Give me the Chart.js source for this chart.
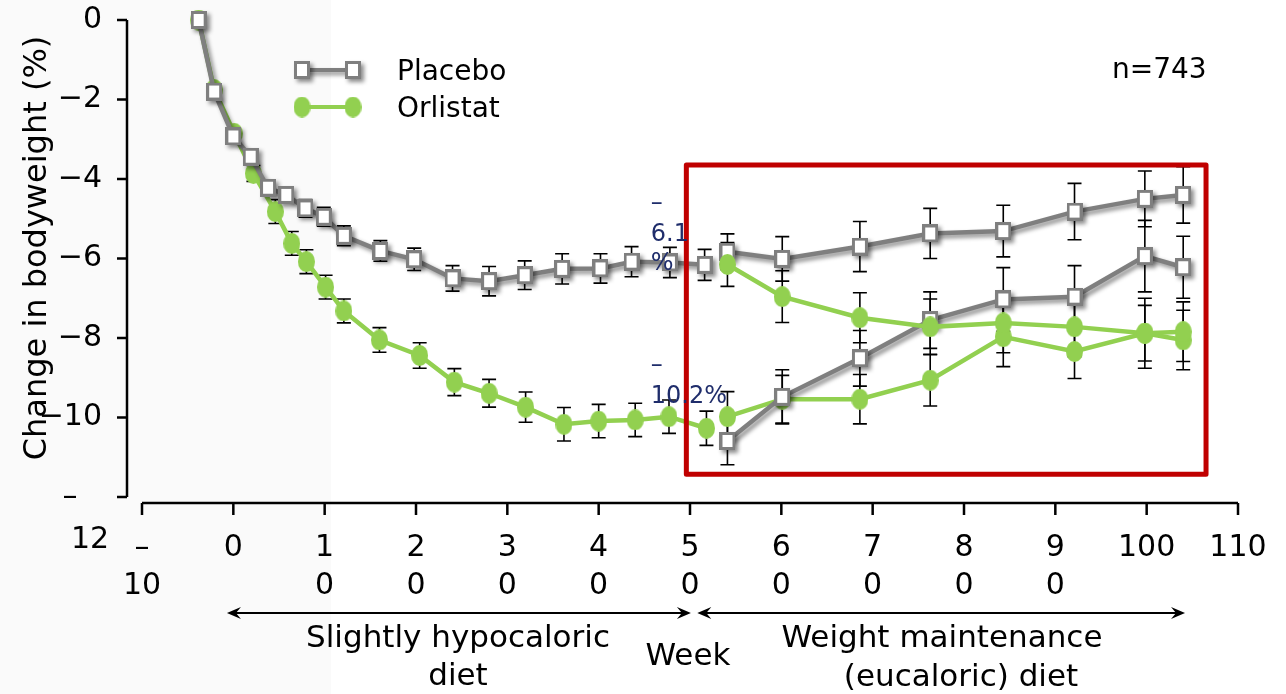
<!DOCTYPE html>
<html>
<head>
<meta charset="utf-8">
<script src="https://cdn.jsdelivr.net/npm/chart.js@4.4.1/dist/chart.umd.min.js"></script>
<style>
  html, body { margin: 0; padding: 0; background: #fff; }
  #wrap { width: 1286px; height: 694px; }
</style>
</head>
<body>
<div id="wrap"><canvas id="chart" width="1286" height="694"></canvas></div>
<script>
// ========================================================================
// Data (weeks / % change in bodyweight / SEM)
// ========================================================================

// hypocaloric phase
const weeksPlacebo = [-3.8, -2.1, 0, 1.9, 3.8, 5.8, 7.9, 9.9, 12.1, 16.1, 19.8, 24, 28, 31.9, 36, 40.2, 43.6, 47.8, 51.6];
const placebo = [0, -1.8, -2.93, -3.44, -4.22, -4.4, -4.74, -4.95, -5.43, -5.81, -6.02, -6.5, -6.57, -6.42, -6.26, -6.25, -6.08, -6.1, -6.16];
const placeboErr = [0, 0.05, 0.1, 0.15, 0.18, 0.2, 0.22, 0.24, 0.25, 0.26, 0.28, 0.32, 0.37, 0.36, 0.38, 0.37, 0.38, 0.38, 0.39];

const weeksOrlistat = [-3.8, -2.1, 0.1, 2.2, 4.6, 6.4, 8.0, 10.1, 12.1, 16.0, 20.4, 24.2, 28.0, 32.0, 36.2, 40.0, 44.0, 47.7, 51.8];
const orlistat = [0, -1.75, -2.85, -3.86, -4.82, -5.62, -6.08, -6.72, -7.32, -8.05, -8.44, -9.11, -9.39, -9.74, -10.17, -10.09, -10.06, -9.98, -10.27];
const orlistatErr = [0, 0.05, 0.1, 0.2, 0.3, 0.3, 0.3, 0.3, 0.3, 0.31, 0.32, 0.34, 0.35, 0.38, 0.42, 0.42, 0.42, 0.42, 0.43];

// maintenance phase (4 re-randomised groups)
const weeksMaint = [54.1, 60.1, 68.6, 76.3, 84.3, 92.1, 99.8, 104.0];
const placeboPlacebo = [-5.83, -6.01, -5.70, -5.37, -5.31, -4.82, -4.5, -4.4];
const placeboPlaceboErr = [0.45, 0.56, 0.63, 0.63, 0.65, 0.71, 0.7, 0.71];
const placeboOrlistat = [-6.15, -6.96, -7.49, -7.72, -7.62, -7.72, -7.88, -7.84];
const placeboOrlistatErr = [0.55, 0.65, 0.63, 0.7, 0.75, 0.75, 0.88, 0.75];
const orlistatPlacebo = [-10.59, -9.48, -8.51, -7.55, -7.03, -6.96, -5.94, -6.22];
const orlistatPlaceboErr = [0.6, 0.68, 0.7, 0.71, 0.8, 0.78, 0.9, 0.78];
const orlistatOrlistat = [-9.98, -9.54, -9.54, -9.06, -7.97, -8.34, -7.88, -8.05];
const orlistatOrlistatErr = [0.63, 0.6, 0.62, 0.65, 0.75, 0.68, 0.7, 0.75];

// axis labels (wrapped the way the original slide wraps them)
const xTickValues = [-10, 0, 10, 20, 30, 40, 50, 60, 70, 80, 90, 100, 110];
const xTickText = [['–', '10'], '0', ['1', '0'], ['2', '0'], ['3', '0'], ['4', '0'], ['5', '0'],
                   ['6', '0'], ['7', '0'], ['8', '0'], ['9', '0'], '100', '110'];
const yTickValues = [-12, -10, -8, -6, -4, -2, 0];
const yTickText = ['– \u2002', '−10', '−8', '−6', '−4', '−2', '0'];

const legendNames = ['Placebo', 'Orlistat'];

// ========================================================================
// Styling helpers
// ========================================================================

const GRAY = '#7f7f7f';
const GREEN = '#92d050';
const NAVY = '#1f2d6b';
const FONT = 'DejaVu Sans';

function squareMarker(w, h) {
    const c = document.createElement('canvas');
    c.width = w; c.height = h;
    const g = c.getContext('2d');
    g.fillStyle = '#fff';
    g.fillRect(0, 0, w, h);
    g.strokeStyle = GRAY;
    g.lineWidth = 3;
    g.strokeRect(1.5, 1.5, w - 3, h - 3);
    return c;
}

function ellipseMarker(w, h) {
    const c = document.createElement('canvas');
    c.width = w; c.height = h;
    const g = c.getContext('2d');
    g.fillStyle = GREEN;
    g.beginPath();
    g.ellipse(w / 2, h / 2, w / 2, h / 2, 0, 0, Math.PI * 2);
    g.fill();
    return c;
}

const squareImg = squareMarker(16, 18);
const ellipseImg = ellipseMarker(17, 21);

function pts(xs, ys) {
    return xs.map((x, i) => ({ x: x, y: ys[i] }));
}

function series(xs, ys, errs, kind) {
    const isGray = kind === 'placebo';
    return {
        data: pts(xs, ys),
        errors: errs,
        shadow: isGray,
        borderColor: isGray ? GRAY : GREEN,
        borderWidth: 4.5,
        pointStyle: isGray ? squareImg : ellipseImg,
        pointRadius: 8,
        pointHoverRadius: 8,
        tension: 0,
        fill: false,
        clip: false
    };
}

// ========================================================================
// Decorations plugin: axes, error bars, shadows, annotations
// ========================================================================

const decor = {
    id: 'decor',
    beforeDraw(chart) {
        const ctx = chart.ctx, x = chart.scales.x;
        ctx.save();
        ctx.fillStyle = '#fff';
        ctx.fillRect(0, 0, chart.width, chart.height);
        ctx.fillStyle = '#fafafa';
        ctx.fillRect(0, 0, x.getPixelForValue(10.7), chart.height);
        ctx.restore();
    },
    beforeDatasetsDraw(chart) {
        const ctx = chart.ctx, x = chart.scales.x, y = chart.scales.y;
        const area = chart.chartArea;
        ctx.save();
        ctx.strokeStyle = '#000';
        ctx.lineWidth = 2.5;

        // detached y axis
        const ax = area.left - 15;
        ctx.beginPath();
        ctx.moveTo(ax, y.getPixelForValue(0));
        ctx.lineTo(ax, y.getPixelForValue(-12));
        yTickValues.forEach(v => {
            const py = y.getPixelForValue(v);
            ctx.moveTo(ax - 10, py);
            ctx.lineTo(ax, py);
        });
        ctx.stroke();

        // detached x axis
        const ay = area.bottom + 6;
        ctx.beginPath();
        ctx.moveTo(x.getPixelForValue(-10), ay);
        ctx.lineTo(x.getPixelForValue(110), ay);
        xTickValues.forEach(v => {
            const px = x.getPixelForValue(v);
            ctx.moveTo(px, ay);
            ctx.lineTo(px, ay + 12);
        });
        ctx.stroke();

        // error bars
        ctx.lineWidth = 1.6;
        chart.data.datasets.forEach(ds => {
            ds.data.forEach((p, i) => {
                const e = ds.errors[i];
                if (e < 0.08) return;
                const px = x.getPixelForValue(p.x);
                const t = y.getPixelForValue(p.y + e);
                const b = y.getPixelForValue(p.y - e);
                ctx.beginPath();
                ctx.moveTo(px, t); ctx.lineTo(px, b);
                ctx.moveTo(px - 7, t); ctx.lineTo(px + 7, t);
                ctx.moveTo(px - 7, b); ctx.lineTo(px + 7, b);
                ctx.stroke();
            });
        });
        ctx.restore();
    },
    beforeDatasetDraw(chart, args) {
        const ctx = chart.ctx;
        ctx.save();
        if (chart.data.datasets[args.index].shadow) {
            ctx.shadowColor = 'rgba(0,0,0,0.45)';
            ctx.shadowBlur = 4;
            ctx.shadowOffsetX = 3;
            ctx.shadowOffsetY = 3;
        }
    },
    afterDatasetDraw(chart) {
        chart.ctx.restore();
    },
    afterDraw(chart) {
        const ctx = chart.ctx, x = chart.scales.x, y = chart.scales.y;
        const area = chart.chartArea;
        ctx.save();

        // red highlight box around maintenance period
        ctx.strokeStyle = '#c00000';
        ctx.lineWidth = 5;
        ctx.lineJoin = 'round';
        const bx0 = x.getPixelForValue(49.6), bx1 = x.getPixelForValue(106.5);
        const by0 = y.getPixelForValue(-3.65), by1 = y.getPixelForValue(-11.43);
        ctx.strokeRect(bx0, by0, bx1 - bx0, by1 - by0);

        // end-of-phase annotations
        ctx.fillStyle = NAVY;
        ctx.font = '24px "' + FONT + '"';
        ctx.textAlign = 'left';
        ctx.textBaseline = 'alphabetic';
        [['–', -4.78], ['6.1', -5.55], ['%', -6.29], ['–', -8.86], ['10.2%', -9.63]].forEach(a => {
            ctx.fillText(a[0], x.getPixelForValue(45.7), y.getPixelForValue(a[1]));
        });

        // legend
        const legendRows = [{ y: 70, img: squareImg, color: GRAY, shadow: true },
                            { y: 107, img: ellipseImg, color: GREEN, shadow: false }];
        legendRows.forEach((r, i) => {
            ctx.save();
            if (r.shadow) {
                ctx.shadowColor = 'rgba(0,0,0,0.45)';
                ctx.shadowBlur = 4;
                ctx.shadowOffsetX = 3;
                ctx.shadowOffsetY = 3;
            }
            ctx.strokeStyle = r.color;
            ctx.lineWidth = 4;
            ctx.beginPath();
            ctx.moveTo(302, r.y); ctx.lineTo(353, r.y);
            ctx.stroke();
            const w = r.img.width, h = r.img.height;
            ctx.drawImage(r.img, 302 - w / 2, r.y - h / 2);
            ctx.drawImage(r.img, 353 - w / 2, r.y - h / 2);
            ctx.restore();
            ctx.fillStyle = '#000';
            ctx.font = '28px "' + FONT + '"';
            ctx.textAlign = 'left';
            ctx.fillText(legendNames[i], 397, r.y + 10);
        });

        ctx.fillStyle = '#000';
        ctx.font = '28px "' + FONT + '"';
        ctx.fillText('n=743', 1112, 78);

        // broken "-12" label remainder
        ctx.font = '30px "' + FONT + '"';
        ctx.textAlign = 'center';
        ctx.fillText('12', 90, 548);

        // y axis title
        ctx.save();
        ctx.translate(38, 248);
        ctx.rotate(-Math.PI / 2);
        ctx.font = '32px "' + FONT + '"';
        ctx.textAlign = 'center';
        ctx.textBaseline = 'middle';
        ctx.fillText('Change in bodyweight (%)', 0, 0);
        ctx.restore();

        // phase arrows
        const arrowY = area.bottom + 116;
        ctx.strokeStyle = '#000';
        ctx.fillStyle = '#000';
        ctx.lineWidth = 2;
        function head(px, dir) {
            ctx.beginPath();
            ctx.moveTo(px, arrowY);
            ctx.lineTo(px - dir * 14, arrowY - 6);
            ctx.lineTo(px - dir * 9, arrowY);
            ctx.lineTo(px - dir * 14, arrowY + 6);
            ctx.closePath();
            ctx.fill();
        }
        [[-0.7, 50.1], [50.8, 104.2]].forEach(s => {
            const a = x.getPixelForValue(s[0]), b = x.getPixelForValue(s[1]);
            ctx.beginPath();
            ctx.moveTo(a + 4, arrowY); ctx.lineTo(b - 4, arrowY);
            ctx.stroke();
            head(a, -1);
            head(b, 1);
        });

        // phase captions and x title
        ctx.font = '31px "' + FONT + '"';
        ctx.textAlign = 'center';
        ctx.textBaseline = 'alphabetic';
        ctx.fillText('Slightly hypocaloric', 458, 647);
        ctx.fillText('diet', 458, 685);
        ctx.fillText('Week', 688, 665);
        ctx.fillText('Weight maintenance', 942, 647);
        ctx.fillText('(eucaloric) diet', 961, 686);

        ctx.restore();
    }
};

// ========================================================================
// Chart
// ========================================================================

const tickFont = { family: FONT, size: 30, lineHeight: 1.27 };

new Chart(document.getElementById('chart'), {
    type: 'line',
    data: {
        datasets: [
            series(weeksPlacebo, placebo, placeboErr, 'placebo'),
            series(weeksOrlistat, orlistat, orlistatErr, 'orlistat'),
            series(weeksMaint, placeboOrlistat, placeboOrlistatErr, 'orlistat'),
            series(weeksMaint, orlistatPlacebo, orlistatPlaceboErr, 'placebo'),
            series(weeksMaint, orlistatOrlistat, orlistatOrlistatErr, 'orlistat'),
            series(weeksMaint, placeboPlacebo, placeboPlaceboErr, 'placebo')
        ]
    },
    options: {
        responsive: false,
        animation: false,
        devicePixelRatio: 1,
        layout: { padding: { left: 0, right: 48, top: 20, bottom: 0 } },
        plugins: {
            legend: { display: false },
            tooltip: { enabled: false }
        },
        scales: {
            x: {
                type: 'linear',
                min: -10,
                max: 110,
                grid: { display: false },
                border: { display: false },
                afterBuildTicks: function(scale) {
                    scale.ticks = xTickValues.map(v => ({ value: v }));
                },
                afterFit: function(scale) {
                    scale.height = 197;
                    scale.paddingLeft = 0;
                    scale.paddingRight = 0;
                },
                ticks: {
                    autoSkip: false,
                    maxRotation: 0,
                    padding: 24,
                    color: '#000',
                    font: tickFont,
                    callback: function(value) {
                        const i = xTickValues.indexOf(value);
                        return i >= 0 ? xTickText[i] : '';
                    }
                }
            },
            y: {
                min: -12,
                max: 0,
                grid: { display: false },
                border: { display: false },
                afterBuildTicks: function(scale) {
                    scale.ticks = yTickValues.map(v => ({ value: v }));
                },
                afterFit: function(scale) {
                    scale.width = 142;
                    scale.paddingTop = 0;
                    scale.paddingBottom = 0;
                },
                ticks: {
                    padding: 32,
                    color: '#000',
                    font: tickFont,
                    callback: function(value) {
                        const i = yTickValues.indexOf(value);
                        return i >= 0 ? yTickText[i] : '';
                    }
                }
            }
        }
    },
    plugins: [decor]
});
</script>
</body>
</html>
